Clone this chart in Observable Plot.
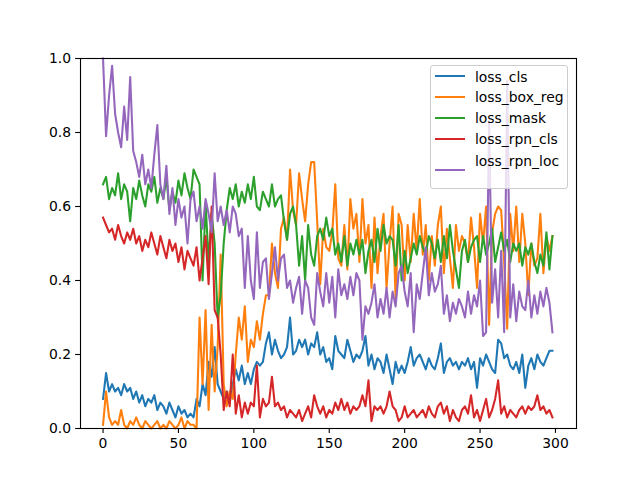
<!DOCTYPE html>
<html>
<head>
<meta charset="utf-8">
<script src="https://cdn.jsdelivr.net/npm/d3@7"></script>
<script src="https://cdn.jsdelivr.net/npm/@observablehq/plot@0.6"></script>
<style>
  html, body { margin: 0; padding: 0; background: #fff; }
  #wrap { position: relative; width: 640px; height: 480px; font-family: "DejaVu Sans", sans-serif; }
  #legend { position: absolute; left: 430px; top: 65px; width: 138px; height: 124px;
            background: rgba(255,255,255,0.8); border: 1px solid #cccccc; border-radius: 3px; box-sizing: border-box; }
  .item-line { position: absolute; left: 4px; width: 30px; height: 2px; }
  .item-text { position: absolute; left: 44px; font-size: 13.9px; line-height: 16px; color: #000; white-space: nowrap; }
</style>
</head>
<body>
<div id="wrap"></div>
<script>
const seriesNames = ["loss_cls", "loss_box_reg", "loss_mask", "loss_rpn_cls", "loss_rpn_loc"];
const seriesColors = ["#1f77b4", "#ff7f0e", "#2ca02c", "#d62728", "#9467bd"];
const stepSize = 2;
const xTicks = [0, 50, 100, 150, 200, 250, 300];
const yTicks = [0, 0.2, 0.4, 0.6, 0.8, 1.0];

const lossCls = [
  0.08,0.15,0.10,0.12,0.10,0.11,0.09,0.12,0.10,0.11,
  0.08,0.10,0.07,0.09,0.06,0.08,0.07,0.09,0.05,0.07,
  0.06,0.04,0.07,0.05,0.03,0.06,0.04,0.05,0.03,0.04,
  0.03,0.08,0.06,0.12,0.09,0.18,0.14,0.22,0.12,0.10,
  0.08,0.10,0.07,0.12,0.16,0.13,0.17,0.12,0.15,0.12,
  0.16,0.18,0.17,0.18,0.23,0.26,0.20,0.24,0.21,0.19,
  0.20,0.22,0.30,0.20,0.21,0.24,0.22,0.24,0.20,0.23,
  0.22,0.26,0.20,0.22,0.18,0.19,0.16,0.25,0.21,0.20,
  0.19,0.24,0.21,0.18,0.20,0.19,0.21,0.25,0.17,0.20,
  0.16,0.19,0.18,0.15,0.20,0.16,0.12,0.18,0.15,0.17,
  0.15,0.18,0.22,0.17,0.19,0.20,0.18,0.16,0.19,0.17,
  0.16,0.19,0.23,0.15,0.18,0.19,0.17,0.18,0.16,0.18,
  0.17,0.19,0.16,0.18,0.11,0.19,0.17,0.20,0.18,0.16,
  0.15,0.24,0.23,0.19,0.20,0.17,0.16,0.18,0.15,0.20,
  0.11,0.17,0.19,0.16,0.20,0.18,0.17,0.19,0.21,0.21];
const lossBoxReg = [
  0.01,0.10,0.03,0.01,0.02,0.01,0.05,0.01,0.00,0.02,
  0.01,0.03,0.01,0.00,0.02,0.01,0.00,0.01,0.02,0.00,
  0.01,0.00,0.02,0.01,0.00,0.01,0.03,0.00,0.02,0.01,
  0.01,0.00,0.30,0.12,0.32,0.05,0.28,0.10,0.22,0.47,
  0.12,0.06,0.10,0.08,0.20,0.30,0.24,0.33,0.18,0.24,
  0.22,0.29,0.24,0.31,0.36,0.36,0.50,0.42,0.38,0.54,
  0.57,0.51,0.70,0.59,0.55,0.69,0.62,0.56,0.66,0.72,
  0.72,0.56,0.39,0.54,0.49,0.48,0.53,0.66,0.46,0.44,
  0.55,0.43,0.62,0.54,0.58,0.45,0.62,0.50,0.55,0.38,
  0.57,0.42,0.52,0.58,0.38,0.50,0.60,0.35,0.58,0.55,
  0.40,0.55,0.45,0.58,0.48,0.62,0.47,0.55,0.40,0.52,
  0.44,0.55,0.60,0.42,0.54,0.46,0.38,0.55,0.48,0.52,
  0.50,0.45,0.57,0.49,0.38,0.58,0.50,0.60,0.28,0.53,
  0.58,0.60,0.59,0.45,0.27,0.58,0.48,0.60,0.45,0.58,
  0.50,0.36,0.50,0.44,0.46,0.58,0.42,0.52,0.48,0.52];
const lossMask = [
  0.66,0.68,0.62,0.65,0.63,0.69,0.62,0.66,0.64,0.56,
  0.65,0.62,0.67,0.63,0.60,0.66,0.64,0.68,0.61,0.65,
  0.62,0.68,0.59,0.64,0.61,0.67,0.63,0.69,0.65,0.62,
  0.70,0.68,0.66,0.40,0.61,0.45,0.58,0.50,0.30,0.36,
  0.50,0.59,0.65,0.62,0.66,0.60,0.64,0.61,0.66,0.62,
  0.68,0.60,0.59,0.64,0.62,0.60,0.66,0.60,0.62,0.63,
  0.56,0.51,0.58,0.60,0.55,0.44,0.52,0.40,0.55,0.47,
  0.44,0.52,0.54,0.51,0.57,0.52,0.54,0.47,0.50,0.45,
  0.52,0.44,0.50,0.47,0.51,0.47,0.51,0.42,0.48,0.51,
  0.45,0.54,0.48,0.55,0.50,0.52,0.51,0.44,0.55,0.40,
  0.48,0.42,0.46,0.50,0.47,0.52,0.49,0.47,0.52,0.50,
  0.46,0.51,0.45,0.52,0.46,0.55,0.48,0.43,0.38,0.48,
  0.51,0.45,0.49,0.51,0.52,0.45,0.52,0.47,0.50,0.54,
  0.45,0.49,0.53,0.48,0.51,0.45,0.50,0.48,0.50,0.44,
  0.49,0.47,0.50,0.45,0.42,0.47,0.44,0.53,0.43,0.52];
const lossRpnCls = [
  0.57,0.55,0.53,0.54,0.51,0.55,0.52,0.50,0.53,0.51,
  0.54,0.50,0.52,0.48,0.51,0.49,0.53,0.50,0.47,0.52,
  0.49,0.46,0.51,0.48,0.50,0.45,0.49,0.43,0.48,0.46,
  0.44,0.49,0.40,0.46,0.52,0.39,0.60,0.32,0.30,0.20,
  0.05,0.10,0.06,0.20,0.04,0.09,0.03,0.07,0.04,0.07,
  0.06,0.17,0.03,0.08,0.06,0.07,0.14,0.06,0.07,0.05,
  0.06,0.03,0.05,0.04,0.03,0.05,0.02,0.04,0.06,0.03,
  0.09,0.06,0.04,0.06,0.03,0.05,0.04,0.07,0.05,0.08,
  0.05,0.07,0.04,0.06,0.05,0.06,0.09,0.06,0.13,0.02,
  0.06,0.05,0.06,0.04,0.06,0.10,0.06,0.05,0.02,0.03,
  0.06,0.03,0.04,0.05,0.03,0.04,0.05,0.03,0.06,0.04,
  0.03,0.06,0.07,0.04,0.06,0.02,0.05,0.03,0.02,0.05,
  0.06,0.04,0.09,0.03,0.05,0.02,0.05,0.08,0.03,0.05,
  0.08,0.13,0.04,0.06,0.03,0.05,0.04,0.03,0.05,0.06,
  0.04,0.06,0.05,0.06,0.09,0.05,0.06,0.04,0.05,0.03];
const lossRpnLoc = [
  1.00,0.79,0.90,0.98,0.85,0.80,0.76,0.87,0.78,0.95,
  0.75,0.72,0.68,0.74,0.66,0.70,0.65,0.74,0.82,0.66,
  0.62,0.71,0.58,0.65,0.55,0.62,0.57,0.60,0.50,0.62,
  0.64,0.56,0.60,0.54,0.62,0.58,0.53,0.69,0.56,0.60,
  0.55,0.59,0.53,0.60,0.58,0.52,0.54,0.38,0.52,0.40,
  0.35,0.53,0.38,0.45,0.46,0.35,0.42,0.49,0.40,0.46,
  0.47,0.38,0.40,0.34,0.38,0.41,0.31,0.40,0.38,0.30,
  0.28,0.42,0.37,0.33,0.42,0.34,0.41,0.30,0.43,0.36,
  0.39,0.35,0.41,0.36,0.42,0.40,0.24,0.33,0.31,0.34,
  0.39,0.30,0.35,0.31,0.38,0.30,0.37,0.33,0.42,0.44,
  0.37,0.33,0.42,0.26,0.39,0.35,0.42,0.49,0.36,0.42,
  0.37,0.39,0.44,0.31,0.36,0.29,0.34,0.31,0.35,0.33,
  0.30,0.37,0.31,0.36,0.33,0.40,0.25,0.26,0.83,0.34,
  0.43,0.30,0.48,0.26,0.94,0.30,0.39,0.29,0.37,0.33,
  0.32,0.40,0.30,0.36,0.31,0.37,0.33,0.38,0.34,0.26];

const allSeries = [lossCls, lossBoxReg, lossMask, lossRpnCls, lossRpnLoc];
const rows = [];
allSeries.forEach((vals, s) => vals.forEach((v, i) => rows.push({series: seriesNames[s], step: i * stepSize, value: v})));

const fs = "13.9px";
const chart = Plot.plot({
  width: 640, height: 480,
  marginLeft: 80, marginRight: 64, marginTop: 58, marginBottom: 52,
  style: {fontFamily: "DejaVu Sans, sans-serif", fontSize: fs, color: "#000", background: "#fff", overflow: "visible"},
  x: {domain: [-14.95, 313.95]},
  y: {domain: [0, 1]},
  color: {domain: seriesNames, range: seriesColors},
  marks: [
    Plot.line(rows, {x: "step", y: "value", z: "series", stroke: "series", strokeWidth: 2.08, strokeLinejoin: "round", strokeLinecap: "square"}),
    Plot.frame({stroke: "#000", strokeWidth: 1.1}),
    Plot.axisX({ticks: xTicks, tickSize: 4.9, tickPadding: 4.5, tickFormat: d => String(d), label: null, fontSize: fs, strokeWidth: 1.1}),
    Plot.axisY({ticks: yTicks, tickSize: 4.9, tickPadding: 4.5, tickFormat: d => d.toFixed(1), label: null, fontSize: fs, strokeWidth: 1.1})
  ]
});
const wrap = document.getElementById("wrap");
wrap.appendChild(chart);

const legend = document.createElement("div");
legend.id = "legend";
const lineTops = [10, 31, 52, 73, 104];
const textTops = [3, 23, 44, 65, 87];
seriesNames.forEach((name, i) => {
  const ln = document.createElement("div");
  ln.className = "item-line";
  ln.style.top = (lineTops[i] - 1) + "px";
  ln.style.background = seriesColors[i];
  legend.appendChild(ln);
  const tx = document.createElement("div");
  tx.className = "item-text";
  tx.style.top = textTops[i] + "px";
  tx.textContent = name;
  legend.appendChild(tx);
});
wrap.appendChild(legend);
</script>
</body>
</html>
